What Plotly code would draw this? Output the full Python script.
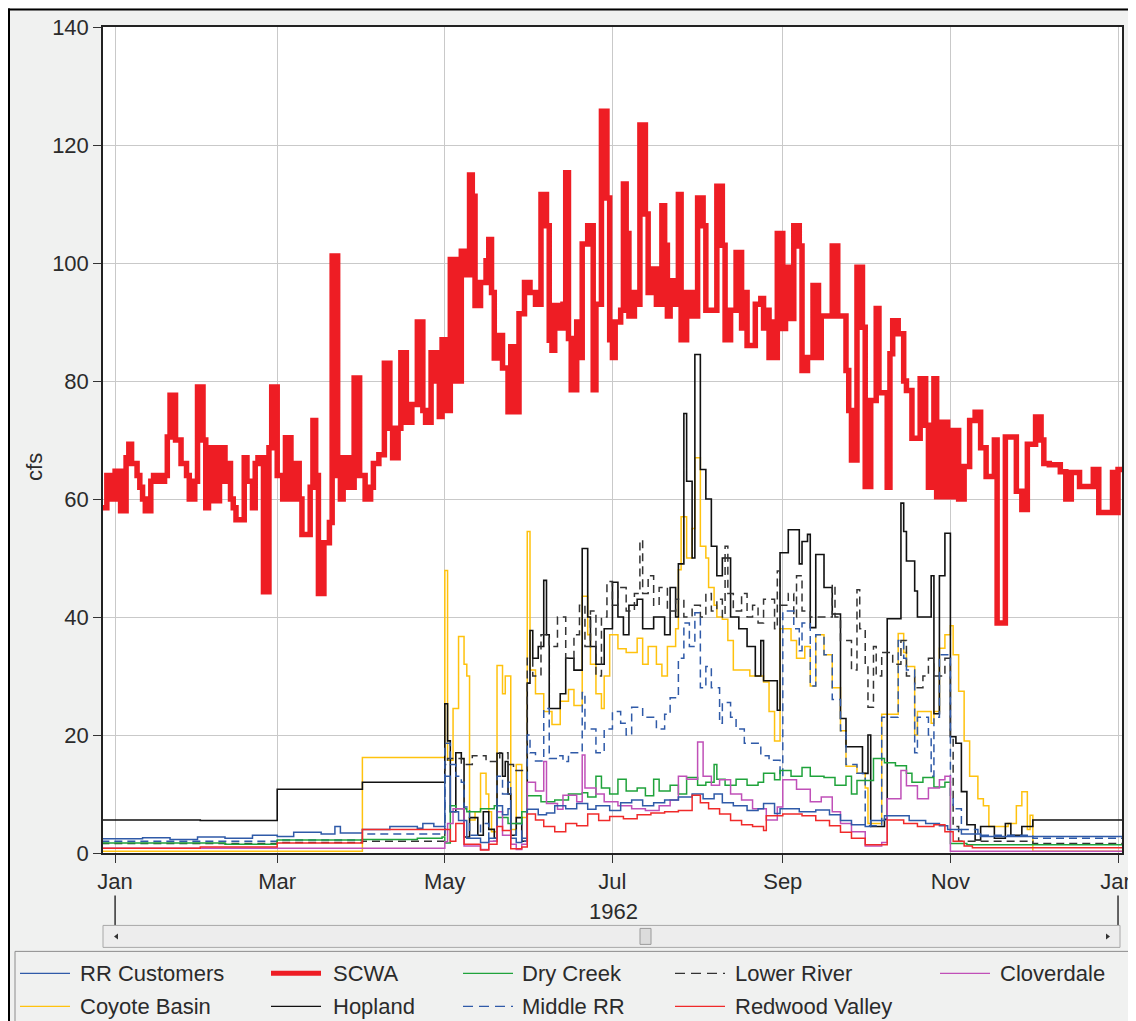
import pandas as pd
import plotly.graph_objects as go

# ---------------- data (day offset from 1962-01-01, value in cfs) ----------------
scwa_day = [-5, -3, -1, 0, 2, 4, 5, 6, 8, 9, 10, 11, 13, 14, 16, 18, 19, 20, 22, 24, 26, 27, 29, 30,
            32, 33, 34, 36, 38, 40, 41, 42, 43, 44, 47, 48, 50, 51, 52, 54, 56, 57, 59, 61, 62, 64,
            65, 67, 68, 71, 72, 73, 74, 76, 78, 79, 81, 82, 83, 85, 87, 89, 91, 93, 94, 96, 98, 100,
            101, 103, 104, 106, 108, 110, 112, 113, 115, 116, 117, 118, 119, 121, 122, 124, 126, 128,
            129, 130, 131, 133, 135, 136, 137, 138, 139, 141, 143, 144, 145, 147, 149, 151, 153, 155,
            157, 158, 159, 160, 162, 163, 164, 165, 166, 168, 169, 170, 172, 174, 175, 177, 179, 180,
            181, 182, 184, 185, 186, 187, 189, 190, 191, 193, 194, 196, 197, 199, 200, 201, 202, 204,
            205, 206, 208, 210, 212, 214, 215, 219, 221, 222, 224, 226, 228, 229, 230, 233, 235, 236,
            237, 238, 239, 240, 241, 243, 244, 246, 247, 249, 250, 252, 254, 256, 257, 261, 263, 266,
            267, 268, 270, 272, 273, 275, 277, 278, 281, 282, 283, 285, 287, 288, 290, 293, 295, 296,
            298, 299, 301, 303, 305, 307, 309, 311, 313, 315, 317, 320, 321, 324, 328, 330, 332, 335,
            337, 338, 340, 344, 346, 348, 351, 356, 358, 363, 364, 365, 367]
scwa_cfs = [58.5, 64, 60, 64.7, 58, 67, 69.3, 66, 64, 62, 60, 58, 63, 64, 63, 64, 70.5, 77.6, 70, 66,
            64, 60, 63, 79, 70, 58.5, 68.7, 59.7, 68.7, 63, 66, 60, 58.5, 56.5, 67, 63, 58.5, 66, 67,
            44.3, 68.7, 79, 64, 60, 70.4, 60, 66, 60, 54, 62, 73.3, 64, 44, 52.6, 56, 101.2, 64, 60,
            67, 62, 80.5, 64, 60, 62, 66, 67.5, 83, 72, 67, 72, 84.8, 73, 76, 90, 75, 73, 84.8, 80,
            84.8, 74, 87, 75, 100.6, 80, 102, 98, 114.9, 111.3, 92.8, 96.7, 100.4, 104, 95, 83.9,
            87.7, 82.2, 74.8, 85.8, 74.8, 91.4, 96.7, 95, 93, 111.6, 106.3, 86.9, 85.2, 92.8, 89, 93,
            115.3, 87.2, 78.5, 90, 84, 103.2, 106.3, 78.5, 93, 125.7, 111, 87, 84, 90, 92, 113.4,
            105, 91, 95, 93, 123.4, 108.3, 95, 99, 93, 109.7, 103, 91, 97, 93, 111.6, 87, 95, 91,
            111, 106.3, 92, 113, 103, 87, 92, 101.8, 89, 95, 86, 93, 94, 89, 92, 84, 90, 84, 105,
            88.9, 99.3, 90.6, 106.3, 102.9, 81.8, 84, 96.2, 84, 91, 102.9, 91, 81.8, 75, 66.6, 99.3,
            89.1, 62.1, 76.7, 92.3, 78, 62, 84.6, 90.2, 88, 80, 78.4, 70.3, 80.4, 72.5, 62, 80.4,
            60.4, 73, 60.4, 71.6, 60, 65.5, 73.3, 74.7, 68.7, 63.8, 70, 39, 70.5, 61.3, 58.2, 69.3,
            73.9, 70, 66, 65.8, 64.6, 60, 64.5, 62.1, 65, 57.7, 64.5, 57.7, 65, 65]

hopland_day = [-5, 31, 59, 90, 120, 121, 122, 124, 126, 127, 129, 132, 134, 136, 138, 139, 141, 142,
               143, 144, 146, 148, 150, 151, 152, 154, 156, 157, 158, 162, 164, 167, 170, 172, 173,
               175, 178, 181, 183, 185, 187, 190, 192, 196, 200, 202, 204, 205, 207, 208, 210, 211,
               213, 215, 217, 219, 221, 224, 227, 230, 233, 235, 236, 241, 242, 245, 249, 250, 252,
               253, 255, 258, 261, 264, 266, 272, 274, 275, 280, 281, 286, 287, 288, 291, 292, 297,
               298, 300, 302, 304, 306, 308, 310, 313, 315, 320, 324, 326, 330, 334, 367]
hopland_cfs = [5.6, 5.5, 10.8, 12, 25.3, 19, 7, 17, 16, 2.7, 6, 3, 7, 4, 2.5, 16.9, 13, 15.5, 10, 3,
               6, 2, 28.8, 37.7, 33, 35, 46.2, 37, 24.5, 27, 33, 31, 51.6, 40, 35, 32, 38, 45.9, 40,
               37, 42, 43, 38, 40, 37, 45, 40, 49, 74.5, 63, 50, 84.5, 65, 60, 52, 47, 50, 40, 38, 35,
               30, 36, 29.2, 24.2, 50.9, 54.8, 49, 52.8, 54, 38.2, 50.6, 45, 40.5, 22.8, 18, 13.5,
               20, 4.5, 5.7, 39.7, 59.3, 54.5, 49.5, 44.4, 40, 47, 23.6, 47, 54.2, 19.7, 18.6, 10.4,
               4.8, 2.2, 4.5, 2.5, 5, 3, 4.5, 5.6, 5.6]

lower_day = [-5, 59, 90, 120, 121, 126, 130, 135, 140, 143, 145, 150, 152, 155, 158, 161, 164, 167,
             169, 171, 173, 175, 177, 179, 181, 183, 186, 189, 191, 192, 194, 196, 198, 201, 204,
             207, 210, 213, 215, 217, 219, 221, 222, 223, 225, 228, 230, 232, 234, 236, 240, 241,
             242, 245, 247, 248, 250, 253, 261, 262, 264, 268, 270, 271, 273, 274, 276, 277, 279,
             283, 286, 288, 291, 294, 296, 298, 302, 304, 305, 307, 334, 367]
lower_cfs = [1.6, 1.8, 2.0, 15, 16, 15, 16.5, 15.5, 17, 15, 14, 33, 30, 37, 35, 40, 33, 37, 42, 35,
             41, 30, 40, 46, 42, 45, 41, 44, 53, 44, 47, 42, 45, 41, 43, 40, 42, 40, 44, 41, 43, 40,
             52, 44, 41, 44, 40, 42, 39, 43, 38, 47.8, 42, 44, 40, 47, 41, 40, 45.5, 40, 36, 31,
             44.6, 38, 32, 24.7, 35, 30, 34, 32, 36, 30, 28, 30, 33, 30, 33, 19.6, 4.5, 2, 1.6, 1.6]

coyote_day = [-5, 90, 120, 121, 123, 125, 127, 128, 129, 131, 133, 135, 136, 137, 139, 141, 142,
              144, 146, 148, 150, 151, 153, 156, 159, 162, 165, 167, 170, 172, 173, 175, 177, 178,
              180, 183, 186, 190, 192, 194, 197, 199, 201, 204, 205, 206, 208, 210, 211, 213, 215,
              216, 218, 219, 221, 223, 225, 231, 236, 238, 240, 242, 246, 248, 251, 253, 255, 258,
              261, 264, 266, 270, 273, 274, 279, 285, 287, 288, 291, 292, 297, 298, 300, 302, 304,
              305, 307, 309, 311, 314, 316, 318, 325, 328, 330, 332, 333, 334, 367]
coyote_cfs = [0.3, 16.2, 47.9, 15.7, 24.5, 36.7, 32, 30, 5.6, 7, 13.5, 10, 7, 3.6, 31.8, 27, 30, 4,
              15, 6, 54.5, 31, 27, 24, 21.8, 25.7, 27.7, 25, 43.5, 37, 32, 27, 24.5, 30, 37, 34.6,
              34, 36.4, 32, 35, 32, 30, 35, 38, 48, 57, 50, 55, 67, 52, 50, 45, 42, 40, 39.6, 36,
              31, 30, 29, 24, 19, 38, 36, 33, 35, 28.3, 37, 33.6, 28, 20.7, 14.7, 13.5, 11, 5, 23.5,
              37.2, 34, 31.6, 20, 24, 22, 24, 34.7, 37, 38.5, 33.6, 27.4, 19, 13, 9.2, 8, 4.5, 5, 8,
              10.4, 4, 6.4, 0.3, 0.3]

middle_day = [-5, 59, 90, 120, 122, 124, 126, 127, 129, 133, 136, 139, 141, 143, 144, 146, 148,
              150, 151, 153, 156, 158, 161, 163, 165, 170, 171, 175, 178, 181, 184, 186, 188, 192,
              197, 200, 202, 205, 207, 209, 211, 213, 215, 217, 220, 221, 224, 226, 229, 235, 238,
              242, 243, 247, 249, 250, 253, 255, 258, 261, 264, 266, 270, 273, 279, 285, 287, 288,
              291, 292, 296, 297, 298, 300, 304, 305, 308, 314, 334, 367]
middle_cfs = [2.0, 2.2, 3.2, 18.6, 15, 13, 12, 7.8, 3, 5, 2, 13, 10, 12, 3, 5, 2, 20, 17, 15.6,
              24.5, 16, 16.5, 15.5, 17, 27.2, 21, 17, 21, 24, 22, 20, 24.7, 23, 21, 23.5, 26.3, 33,
              39, 35, 40.7, 28, 31.6, 28, 22, 25.5, 23, 21, 18.6, 16.5, 15.7, 13, 41, 38, 34.3, 39,
              28.3, 37, 33.6, 26, 20.7, 15, 13.5, 4.6, 23, 36, 33, 31, 17, 23, 20, 13, 23, 33.6, 9.8,
              7.5, 4, 3, 2.5, 2.5]

rrcust_day = [-5, 10, 20, 30, 40, 50, 59, 65, 75, 80, 82, 90, 100, 110, 112, 116, 120, 122, 125,
              128, 133, 136, 139, 141, 143, 144, 146, 148, 150, 154, 157, 160, 164, 168, 172, 175,
              180, 184, 188, 192, 196, 200, 205, 210, 214, 218, 221, 225, 230, 234, 236, 240, 242,
              249, 255, 260, 264, 268, 273, 275, 280, 289, 295, 300, 303, 308, 315, 334, 367]
rrcust_cfs = [2.4, 2.6, 2.3, 2.7, 2.5, 3.0, 2.8, 3.5, 3.2, 4.5, 3.4, 4.0, 4.5, 4.2, 5.0, 4.5, 13, 7,
              5.5, 2.5, 1.8, 2.5, 8, 6.5, 7.5, 2.5, 1.8, 2.5, 7.4, 6.5, 6.8, 8, 7.5, 8.4, 7.4, 8,
              7.2, 8.5, 9, 8, 8.5, 9, 9.5, 10, 9.2, 10, 8.5, 8, 7.2, 7.5, 8.4, 6.7, 7.5, 7, 7.3, 6.5,
              5.5, 4.8, 4.5, 5.5, 6.3, 5.5, 5, 4.6, 4, 3.2, 2.8, 2.8, 2.8]

dry_day = [-5, 40, 59, 90, 110, 119, 120, 122, 124, 128, 133, 138, 139, 143, 148, 150, 155, 160,
           165, 170, 172, 175, 177, 180, 183, 186, 190, 193, 196, 198, 202, 205, 208, 212, 215, 218,
           219, 222, 226, 230, 234, 236, 240, 242, 246, 250, 253, 258, 262, 266, 268, 270, 276, 280,
           284, 288, 290, 294, 298, 302, 304, 310, 367]
dry_cfs = [1.7, 1.5, 2.2, 2.3, 2.5, 2.7, 1.7, 8, 7.5, 7, 7.5, 8, 6, 5, 7, 9.7, 8.7, 9, 10, 10.2,
           9.5, 13, 11, 10, 12.5, 10.5, 11, 9.7, 12.5, 10.5, 11.5, 10, 12.8, 11.5, 12, 15, 12.5,
           11.5, 12.5, 11.5, 12, 13.5, 12.4, 14, 13, 14.5, 13, 12.8, 11.5, 13, 10, 12.3, 16, 15.3,
           14.8, 13.5, 12, 12.8, 11.2, 12, 1.6, 1.4, 1.4]

clover_day = [-5, 120, 121, 123, 127, 133, 136, 139, 141, 144, 146, 148, 150, 153, 156, 157, 161,
              163, 168, 170, 171, 175, 178, 183, 188, 193, 198, 202, 205, 208, 212, 214, 217, 220,
              224, 228, 232, 237, 241, 243, 248, 253, 257, 261, 264, 268, 273, 279, 281, 286, 288,
              292, 296, 300, 302, 304, 367]
clover_cfs = [0.8, 1.9, 5, 7.5, 1.2, 0.6, 2, 7, 3, 1.5, 0.6, 1.5, 12, 10.5, 15.5, 8.4, 7.4, 9.8,
              8.7, 16.6, 11, 10, 8.7, 8, 7.5, 7.2, 8, 9, 13, 12.5, 18.8, 13, 11.5, 12.4, 10, 9, 7.5,
              5.6, 7.8, 12.4, 10.8, 8.7, 9.5, 7, 5, 3.6, 1.2, 1.8, 9.2, 14, 11.4, 9.2, 11, 12.4, 13,
              0.3, 0.3]

redwood_day = [-5, 31, 59, 90, 120, 122, 124, 127, 133, 136, 139, 141, 144, 148, 150, 153, 156,
               160, 164, 168, 172, 176, 180, 185, 190, 195, 200, 205, 210, 213, 216, 220, 224, 228,
               232, 236, 237, 243, 250, 255, 260, 264, 268, 273, 279, 281, 287, 292, 298, 302, 305,
               309, 312, 367]
redwood_cfs = [0.8, 1.0, 1.7, 4.0, 4, 2, 5, 1.5, 0.5, 1.5, 4.5, 3.8, 0.7, 1.0, 6.6, 5.6, 4.5, 3.6,
               5, 4.6, 6.6, 5.5, 6.2, 5.8, 6.5, 6.8, 7, 7.2, 9.8, 8.5, 7.5, 6.6, 5.5, 4.8, 4.5, 3.8,
               6.3, 6.6, 6.3, 5.5, 4.6, 3.5, 2.5, 1.4, 1.4, 5.6, 5, 4.5, 4.8, 3.6, 2, 1.2, 0.9, 0.9]

series_names = ["RR Customers", "SCWA", "Dry Creek", "Lower River", "Cloverdale",
                "Coyote Basin", "Hopland", "Middle RR", "Redwood Valley"]
y_ticks = [0, 20, 40, 60, 80, 100, 120, 140]
year_label = "1962"
y_label = "cfs"

# ---------------- styles ----------------
styles = {
    "RR Customers":   dict(color="#2F5AA8", width=1.5, dash="solid"),
    "SCWA":           dict(color="#EE1D24", width=5.5, dash="solid"),
    "Dry Creek":      dict(color="#1FA33B", width=1.5, dash="solid"),
    "Lower River":    dict(color="#333333", width=1.5, dash="8px,5px"),
    "Cloverdale":     dict(color="#C050B8", width=1.5, dash="solid"),
    "Coyote Basin":   dict(color="#FFC20E", width=1.5, dash="solid"),
    "Hopland":        dict(color="#111111", width=1.6, dash="solid"),
    "Middle RR":      dict(color="#2F5AA8", width=1.5, dash="8px,5px"),
    "Redwood Valley": dict(color="#F02A2A", width=1.5, dash="solid"),
}
data = {
    "RR Customers": (rrcust_day, rrcust_cfs),
    "SCWA": (scwa_day, scwa_cfs),
    "Dry Creek": (dry_day, dry_cfs),
    "Lower River": (lower_day, lower_cfs),
    "Cloverdale": (clover_day, clover_cfs),
    "Coyote Basin": (coyote_day, coyote_cfs),
    "Hopland": (hopland_day, hopland_cfs),
    "Middle RR": (middle_day, middle_cfs),
    "Redwood Valley": (redwood_day, redwood_cfs),
}

base = pd.Timestamp("1962-01-01")
def to_dates(days):
    return [base + pd.Timedelta(days=d) for d in days]

# the page body adds an 8px margin; figure coordinates are page coordinates minus 8
OFF = 8
W, H = 1136 - OFF, 1021 - OFF
PL, PR, PT, PB = 103 - OFF, 1122 - OFF, 26.5 - OFF, 853.5 - OFF
def xp(px):
    return (px - OFF - PL) / (PR - PL)
def yp(py):
    return (PB - (py - OFF)) / (PB - PT)

FONT = "Liberation Sans, Arial, sans-serif"
TXT = "#2b2b2b"
BG = "#F0F1F0"
FS = 22

fig = go.Figure()
draw_order = ["Coyote Basin", "Hopland", "Lower River", "Middle RR", "Dry Creek",
              "Cloverdale", "RR Customers", "Redwood Valley", "SCWA"]
for name in draw_order:
    d, v = data[name]
    st = styles[name]
    fig.add_trace(go.Scatter(
        x=to_dates(d), y=v, mode="lines", name=name, showlegend=False,
        line=dict(color=st["color"], width=st["width"], dash=st["dash"], shape="hv"),
    ))

shapes = []
annotations = []

# frame (top and left edges)
shapes.append(dict(type="line", xref="paper", yref="paper", x0=xp(9), x1=xp(9), y0=yp(8), y1=yp(1030),
                   line=dict(color="black", width=2)))
shapes.append(dict(type="line", xref="paper", yref="paper", x0=xp(8), x1=xp(1145), y0=yp(9), y1=yp(9),
                   line=dict(color="black", width=2)))

# long year-boundary ticks
for dd in [0, 365]:
    xd = base + pd.Timedelta(days=dd)
    shapes.append(dict(type="line", xref="x", yref="paper", x0=xd, x1=xd, y0=yp(896), y1=yp(926),
                       line=dict(color="#333333", width=1.5)))

# scrollbar
shapes.append(dict(type="rect", xref="paper", yref="paper", x0=xp(103), x1=xp(1120), y0=yp(948), y1=yp(926),
                   fillcolor="#EDEDED", line=dict(color="#A8A8A8", width=1)))
shapes.append(dict(type="rect", xref="paper", yref="paper", x0=xp(640), x1=xp(651), y0=yp(945), y1=yp(929),
                   fillcolor="#DCDCDC", line=dict(color="#9A9A9A", width=1)))
shapes.append(dict(type="path", xref="paper", yref="paper",
                   path=f"M {xp(114)} {yp(937)} L {xp(118)} {yp(934)} L {xp(118)} {yp(940)} Z",
                   fillcolor="#333333", line=dict(width=0)))
shapes.append(dict(type="path", xref="paper", yref="paper",
                   path=f"M {xp(1110)} {yp(937)} L {xp(1106)} {yp(934)} L {xp(1106)} {yp(940)} Z",
                   fillcolor="#333333", line=dict(width=0)))

# legend box
shapes.append(dict(type="rect", xref="paper", yref="paper", x0=xp(15), x1=xp(1145), y0=yp(1030), y1=yp(952),
                   fillcolor="rgba(0,0,0,0)", line=dict(color="#8C8C8C", width=1)))
col_line_x = [20, 271, 463, 675, 940]
col_text_x = [78, 331, 520, 733, 998]
row_y = [974, 1007]
for i, name in enumerate(series_names):
    r, c = divmod(i, 5)
    st = styles[name]
    shapes.append(dict(type="line", xref="paper", yref="paper",
                       x0=xp(col_line_x[c]), x1=xp(col_line_x[c] + 50), y0=yp(row_y[r]), y1=yp(row_y[r]),
                       line=dict(color=st["color"], width=5 if name == "SCWA" else 1.3,
                                 dash="10px,6px" if st["dash"] != "solid" else "solid")))
    annotations.append(dict(xref="paper", yref="paper", x=xp(col_text_x[c]), y=yp(row_y[r]),
                            text=name, showarrow=False, xanchor="left", yanchor="middle",
                            font=dict(family=FONT, size=FS, color=TXT)))

annotations.append(dict(xref="paper", yref="paper", x=xp(613), y=yp(912), text=year_label,
                        showarrow=False, xanchor="center", yanchor="middle",
                        font=dict(family=FONT, size=FS, color=TXT)))
annotations.append(dict(xref="paper", yref="paper", x=xp(35), y=yp(467), text=y_label, textangle=-90,
                        showarrow=False, xanchor="center", yanchor="middle",
                        font=dict(family=FONT, size=FS, color=TXT)))

fig.update_layout(
    width=W, height=H,
    margin=dict(l=PL, r=W - PR, t=PT, b=H - PB, pad=0, autoexpand=False),
    paper_bgcolor=BG, plot_bgcolor="white",
    showlegend=False,
    shapes=shapes, annotations=annotations,
    font=dict(family=FONT, size=FS, color=TXT),
)
fig.update_xaxes(
    type="date",
    range=[base + pd.Timedelta(days=-4.4), base + pd.Timedelta(days=366.45)],
    tick0="1962-01-01", dtick="M2", tickformat="%b",
    ticks="outside", ticklen=8, tickcolor="#333333", tickwidth=1,
    showgrid=True, gridcolor="#C9C9C9", gridwidth=1,
    showline=True, linecolor="#222222", linewidth=1.5, mirror=True,
    zeroline=False, automargin=False,
    tickfont=dict(family=FONT, size=FS, color=TXT),
)
fig.update_yaxes(
    range=[0, 140], tickvals=y_ticks,
    ticks="outside", ticklen=8, tickcolor="#333333", tickwidth=1,
    showgrid=True, gridcolor="#C9C9C9", gridwidth=1,
    showline=True, linecolor="#222222", linewidth=1.5, mirror=True,
    zeroline=False, automargin=False,
    tickfont=dict(family=FONT, size=FS, color=TXT),
)

fig.write_html("out.html")
